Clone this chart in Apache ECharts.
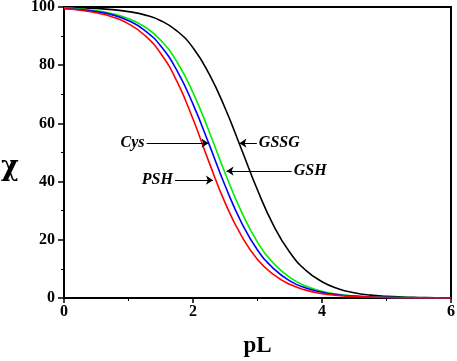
<!DOCTYPE html>
<html>
<head>
<meta charset="utf-8">
<script src="https://cdn.jsdelivr.net/npm/echarts@6/dist/echarts.min.js"></script>
<style>
  html, body { margin: 0; padding: 0; background: #fff; }
  #chart { width: 457px; height: 361px; }
</style>
</head>
<body>
<div id="chart"></div>
<script>
// pL values (x)
var pL = [0, 0.25, 0.5, 0.75, 1, 1.25, 1.5, 1.75, 2, 2.25, 2.5, 2.75, 3,
          3.25, 3.5, 3.75, 4, 4.25, 4.5, 4.75, 5, 5.25, 5.5, 5.75, 6];

// chi values
var psh  = [99.4, 98.9, 98.0, 96.6, 94.2, 90.3, 84.0, 74.5, 61.5, 46.6, 32.6, 21.4, 13.2,
            8.0, 4.7, 2.7, 1.5, 0.9, 0.5, 0.3, 0.15, 0.09, 0.05, 0.03, 0.02];
var cys  = [99.5, 99.1, 98.4, 97.3, 95.3, 92.0, 86.6, 78.2, 66.6, 52.8, 38.5, 26.0, 16.5,
            10.1, 5.9, 3.4, 2.0, 1.1, 0.63, 0.35, 0.2, 0.11, 0.06, 0.04, 0.02];
var gsh  = [99.6, 99.3, 98.7, 97.7, 96.0, 93.2, 88.6, 81.2, 70.6, 57.2, 42.8, 29.7, 19.2,
            11.9, 7.1, 4.1, 2.3, 1.3, 0.75, 0.43, 0.24, 0.13, 0.08, 0.04, 0.02];
var gssg = [99.8, 99.7, 99.5, 99.1, 98.4, 97.3, 95.3, 91.8, 86.0, 77.0, 65.1, 51.2, 37.1,
            24.9, 15.7, 9.5, 5.6, 3.2, 1.8, 1.0, 0.58, 0.33, 0.19, 0.1, 0.06];

// annotations: [label, y, x of text end, x of arrow tip]
var notes = [
  ['Cys', 53.2, 1.28, 2.24],
  ['GSSG', 53.2, 2.99, 2.72],
  ['GSH', 43.6, 3.53, 2.52],
  ['PSH', 40.5, 1.72, 2.31]
];

var serif = '"Liberation Serif", "Times New Roman", serif';

function pairs(ys) {
  var out = [];
  for (var i = 0; i < pL.length; i++) out.push([pL[i], ys[i]]);
  return out;
}

function mkSeries(name, ys, color) {
  return {
    name: name,
    type: 'line',
    data: pairs(ys),
    smooth: true,
    showSymbol: false,
    silent: true,
    lineStyle: { color: color, width: 1.6 },
    z: 3
  };
}

var arrowLines = notes.map(function(n) {
  return [
    { coord: [n[2], n[1]], label: { formatter: n[0] } },
    { coord: [n[3], n[1]] }
  ];
});

var series = [
  mkSeries('GSSG', gssg, '#000000'),
  mkSeries('GSH', gsh, '#00ee00'),
  mkSeries('Cys', cys, '#0000ff'),
  mkSeries('PSH', psh, '#ff0000')
];

series[0].markLine = {
  silent: true,
  animation: false,
  symbol: ['none', 'arrow'],
  symbolSize: 7,
  lineStyle: { color: '#000', width: 1, type: 'solid' },
  label: {
    show: true,
    position: 'start',
    distance: 2,
    color: '#000',
    fontFamily: serif,
    fontStyle: 'italic',
    fontWeight: 'bold',
    fontSize: 16
  },
  data: arrowLines
};

var option = {
  animation: false,
  backgroundColor: '#fff',
  grid: {
    left: 64, right: 6, top: 7, bottom: 63,
    outerBoundsMode: 'none',
    containLabel: false,
    show: true,
    borderColor: '#000',
    borderWidth: 2
  },
  // y axis title (chi), drawn upright left of the axis
  graphic: [{
    type: 'text',
    left: 1,
    top: 154,
    silent: true,
    style: {
      text: 'χ',
      fill: '#000',
      font: 'bold 27px "DejaVu Serif", serif'
    }
  }],
  xAxis: {
    type: 'value',
    min: 0, max: 6, interval: 2,
    name: 'pL',
    nameLocation: 'middle',
    nameGap: 37,
    nameTextStyle: { color: '#000', fontFamily: serif, fontWeight: 'bold', fontSize: 23 },
    axisLine: { lineStyle: { color: '#000', width: 2 } },
    axisTick: { length: 5, lineStyle: { color: '#000', width: 1.5 } },
    minorTick: { show: true, splitNumber: 2, length: 3, lineStyle: { color: '#000', width: 1 } },
    axisLabel: { color: '#000', fontFamily: serif, fontWeight: 'bold', fontSize: 16, margin: 6 },
    splitLine: { show: false }
  },
  yAxis: {
    type: 'value',
    min: 0, max: 100, interval: 20,
    axisLine: { show: true, lineStyle: { color: '#000', width: 2 } },
    axisTick: { show: true, length: 6, lineStyle: { color: '#000', width: 1.5 } },
    minorTick: { show: true, splitNumber: 2, length: 3, lineStyle: { color: '#000', width: 1 } },
    axisLabel: { color: '#000', fontFamily: serif, fontWeight: 'bold', fontSize: 16, margin: 9 },
    splitLine: { show: false }
  },
  series: series
};

var chart = echarts.init(document.getElementById('chart'), null, { renderer: 'canvas' });
chart.setOption(option);
</script>
</body>
</html>
